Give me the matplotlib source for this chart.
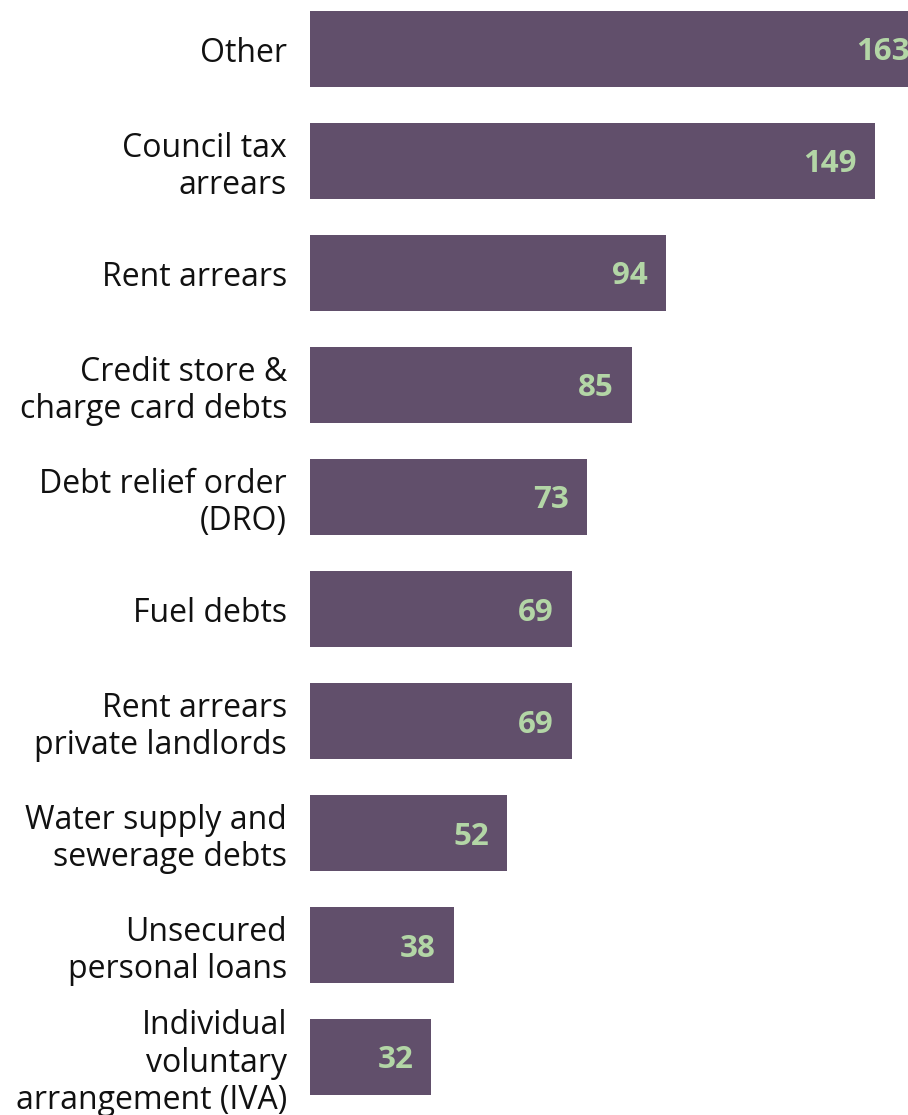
import matplotlib.pyplot as plt

plt.rcParams['font.family'] = ['Open Sans', 'DejaVu Sans']

categories = [
    'Other',
    'Council tax\narrears',
    'Rent arrears',
    'Credit store &\ncharge card debts',
    'Debt relief order\n(DRO)',
    'Fuel debts',
    'Rent arrears\nprivate landlords',
    'Water supply and\nsewerage debts',
    'Unsecured\npersonal loans',
    'Individual\nvoluntary\narrangement (IVA)',
]
counts = [163, 149, 94, 85, 73, 69, 69, 52, 38, 32]

bar_color = '#614f6b'
label_color = '#b3d6a6'

fig = plt.figure(figsize=(9.08, 11.15), dpi=100)
ax = fig.add_axes([310 / 908, 0, 1 - 310 / 908, 1])

pos = list(range(len(categories)))
ax.barh(pos, counts, height=0.68, color=bar_color)

# scale so the largest bar runs off the right edge
ax.set_xlim(0, 157.7)
ax.set_ylim(9.5 + 2 / 112, -49 / 112)

for y, v in zip(pos, counts):
    ax.text(v - 4.8, y, str(v), ha='right', va='center_baseline', color=label_color,
            fontsize=22.5, fontweight='bold', clip_on=False)

ax.set_yticks(pos)
ax.set_yticklabels(categories, fontsize=23, color='#111111', linespacing=1.17)
ax.tick_params(axis='y', length=0, pad=16.5)
ax.set_xticks([])
for s in ax.spines.values():
    s.set_visible(False)

fig.savefig('out.png', dpi=100)
